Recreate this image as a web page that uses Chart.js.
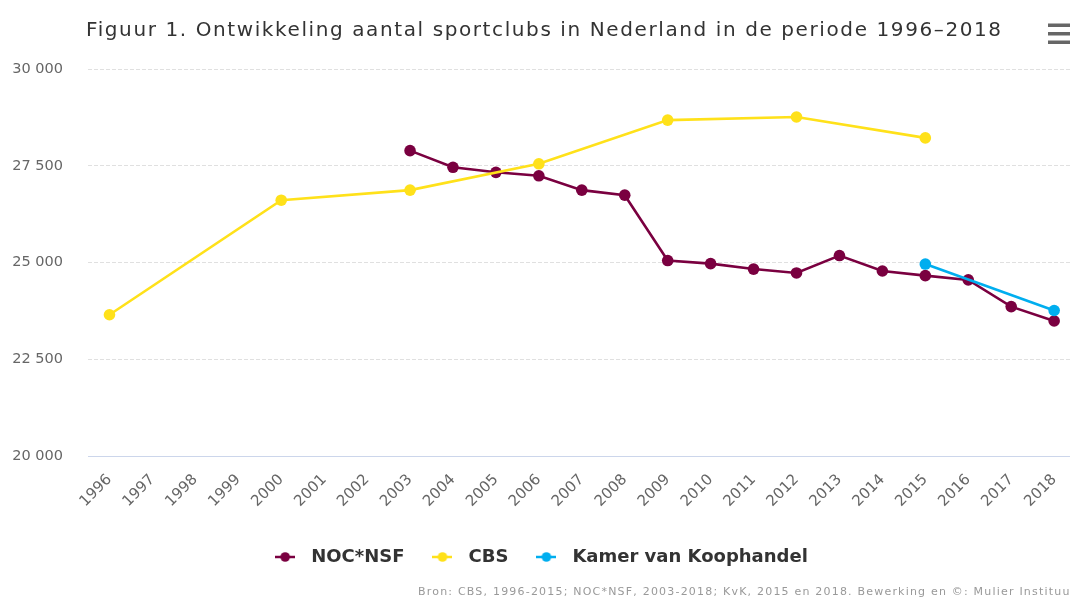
<!DOCTYPE html>
<html><head><meta charset="utf-8">
<script src="https://cdn.jsdelivr.net/npm/chart.js@4.4.1/dist/chart.umd.min.js"></script>
<style>html,body{margin:0;padding:0;overflow:hidden;background:#fff}canvas{display:block}</style>
</head><body>
<canvas id="c" width="1082" height="598"></canvas>
<script>
// ---- data ----
const years = ['1996','1997','1998','1999','2000','2001','2002','2003','2004','2005','2006','2007','2008','2009','2010','2011','2012','2013','2014','2015','2016','2017','2018'];
const nocNsf = [null,null,null,null,null,null,null,27890,27460,27330,27240,26870,26740,25050,24970,24830,24730,25180,24780,24660,24550,23860,23490];
const cbs    = [23650,null,null,null,26610,null,null,26870,null,null,27550,null,null,28680,null,null,28760,null,null,28220,null,null,null];
const kvk    = [null,null,null,null,null,null,null,null,null,null,null,null,null,null,null,null,null,null,null,24960,null,null,23760];
const yTickValues = [20000,22500,25000,27500,30000];
const seriesNames = ['NOC*NSF','CBS','Kamer van Koophandel'];
const titleText = 'Figuur 1. Ontwikkeling aantal sportclubs in Nederland in de periode 1996–2018';
const sourceText = 'Bron: CBS, 1996-2015; NOC*NSF, 2003-2018; KvK, 2015 en 2018. Bewerking en ©: Mulier Instituut';

const colors = ['#7a0040','#ffe11a','#00aeef'];

function legendSymbol(color){
  const c = document.createElement('canvas');
  c.width = 20; c.height = 12;
  const x = c.getContext('2d');
  x.strokeStyle = color; x.lineWidth = 2.5;
  x.beginPath(); x.moveTo(0,6); x.lineTo(20,6); x.stroke();
  x.fillStyle = color; x.beginPath(); x.arc(10,6,4.8,0,Math.PI*2); x.fill();
  return c;
}
const symbols = colors.map(legendSymbol);

const fmt = v => String(v).replace(/\B(?=(\d{3})+(?!\d))/g, ' ');

const decor = {
  id:'decor',
  afterDraw(chart){
    const ctx = chart.ctx;
    ctx.save();
    ctx.fillStyle = '#333';
    ctx.font = '20px "DejaVu Sans"';
    ctx.letterSpacing = '1.6px';
    ctx.textAlign = 'left';
    ctx.textBaseline = 'alphabetic';
    ctx.fillText(titleText, 86, 36);
    // menu icon
    ctx.letterSpacing = '0px';
    ctx.fillStyle = '#666';
    [23.5, 32, 40.5].forEach(y => ctx.fillRect(1048, y, 24, 3.5));
    // source
    ctx.fillStyle = '#999';
    ctx.font = '11px "DejaVu Sans"';
    ctx.letterSpacing = '1.2px';
    ctx.fillText(sourceText, 418, 595);
    ctx.restore();
  }
};

const ds = (label, data, i, order) => ({
  label, data, order,
  borderColor: colors[i], backgroundColor: colors[i],
  pointBackgroundColor: colors[i], pointBorderWidth: 0,
  pointRadius: 5.8, pointHoverRadius: 5.8,
  borderWidth: 2.6, spanGaps: true, tension: 0
});

new Chart(document.getElementById('c'), {
  type: 'line',
  data: {
    labels: years,
    datasets: [ds(seriesNames[0], nocNsf, 0, 3), ds(seriesNames[1], cbs, 1, 2), ds(seriesNames[2], kvk, 2, 1)]
  },
  options: {
    responsive: false, animation: false,
    events: [],
    layout: { padding: { top: 69, right: 6, bottom: 22, left: 0 } },
    scales: {
      x: {
        type: 'category', offset: true,
        grid: { display: false, drawTicks: false },
        border: { display: true, color: '#ccd6eb', width: 1 },
        ticks: { autoSkip: false, maxRotation: 45, minRotation: 45, padding: 15, color: '#666', font: { family: 'DejaVu Sans', size: 15 } },
        afterFit(s){ s.height = 71; }
      },
      y: {
        min: 20000, max: 30000,
        afterBuildTicks(s){ s.ticks = yTickValues.map(v => ({ value: v })); },
        grid: { color: '#e0e0e0', drawTicks: false, lineWidth: 1 },
        border: { display: false, dash: [4, 2] },
        ticks: { padding: 25, color: '#666', font: { family: 'DejaVu Sans', size: 14.5 }, callback: v => fmt(v) },
        afterFit(s){ s.width = 88; }
      }
    },
    plugins: {
      title: { display: false },
      tooltip: { enabled: false },
      legend: {
        position: 'bottom',
        labels: {
          usePointStyle: true, pointStyleWidth: 34, padding: 21,
          color: '#333', font: { family: 'DejaVu Sans', size: 18, weight: 'bold' },
          sort: (a, b) => a.datasetIndex - b.datasetIndex,
          generateLabels(chart){
            const items = Chart.defaults.plugins.legend.labels.generateLabels(chart);
            items.forEach(it => { it.pointStyle = symbols[it.datasetIndex]; });
            return items;
          }
        }
      }
    }
  },
  plugins: [decor]
});
</script>
</body></html>
